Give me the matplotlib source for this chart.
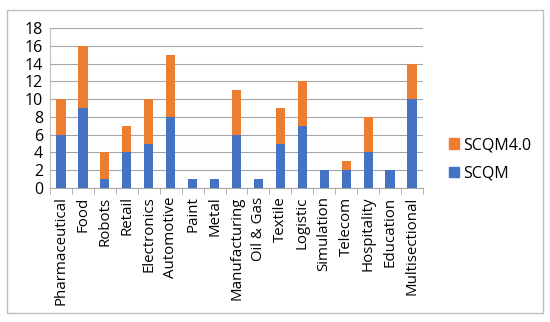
import matplotlib.pyplot as plt
from matplotlib.patches import Rectangle, Patch

sectors = ["Pharmaceutical", "Food", "Robots", "Retail", "Electronics", "Automotive",
           "Paint", "Metal", "Manufacturing", "Oil & Gas", "Textile", "Logistic",
           "Simulation", "Telecom", "Hospitality", "Education", "Multisectional"]
scqm = [6, 9, 1, 4, 5, 8, 1, 1, 6, 1, 5, 7, 2, 2, 4, 2, 10]
scqm40 = [4, 7, 3, 3, 5, 7, 0, 0, 5, 0, 4, 5, 0, 1, 4, 0, 4]

blue = '#4472C4'
orange = '#ED7D31'
plt.rcParams['font.family'] = ['Open Sans', 'DejaVu Sans']

fig = plt.figure(figsize=(5.5, 3.22), dpi=100)
ax = fig.add_axes([0.091, 0.416, 0.678, 0.497])

x = range(len(sectors))
ax.bar(x, scqm, width=0.42, color=blue, zorder=3)
ax.bar(x, scqm40, width=0.42, bottom=scqm, color=orange, zorder=3)

ax.set_xlim(-0.5, len(sectors) - 0.5)
ax.set_ylim(0, 18)
ax.set_yticks(range(0, 19, 2))
ax.yaxis.grid(True, color='#A6A6A6', lw=0.8, zorder=0)
ax.tick_params(axis='y', length=0, labelsize=11.5, pad=5)
ax.set_xticks(list(x))
ax.set_xticklabels(sectors, rotation=90, fontsize=10.8)
ax.set_xticks([i + 0.5 for i in range(-1, len(sectors))], minor=True)
ax.tick_params(axis='x', which='major', length=0, pad=6)
ax.tick_params(axis='x', which='minor', length=4, color='#A6A6A6')
for s in ['top', 'right']:
    ax.spines[s].set_visible(False)
ax.spines['left'].set_color('#BFBFBF')
ax.spines['bottom'].set_color('#A6A6A6')

handles = [Patch(color=orange), Patch(color=blue)]
fig.legend(handles, ['SCQM4.0', 'SCQM'], loc='center left', bbox_to_anchor=(0.79, 0.505),
           frameon=False, fontsize=11.5, handlelength=0.65, handleheight=0.65,
           handletextpad=0.25, labelspacing=0.8)

fig.patches.append(Rectangle((0.013, 0.028), 0.974, 0.94, transform=fig.transFigure,
                             fill=False, edgecolor='#BFBFBF', lw=1))
fig.savefig('out.png', dpi=100)
